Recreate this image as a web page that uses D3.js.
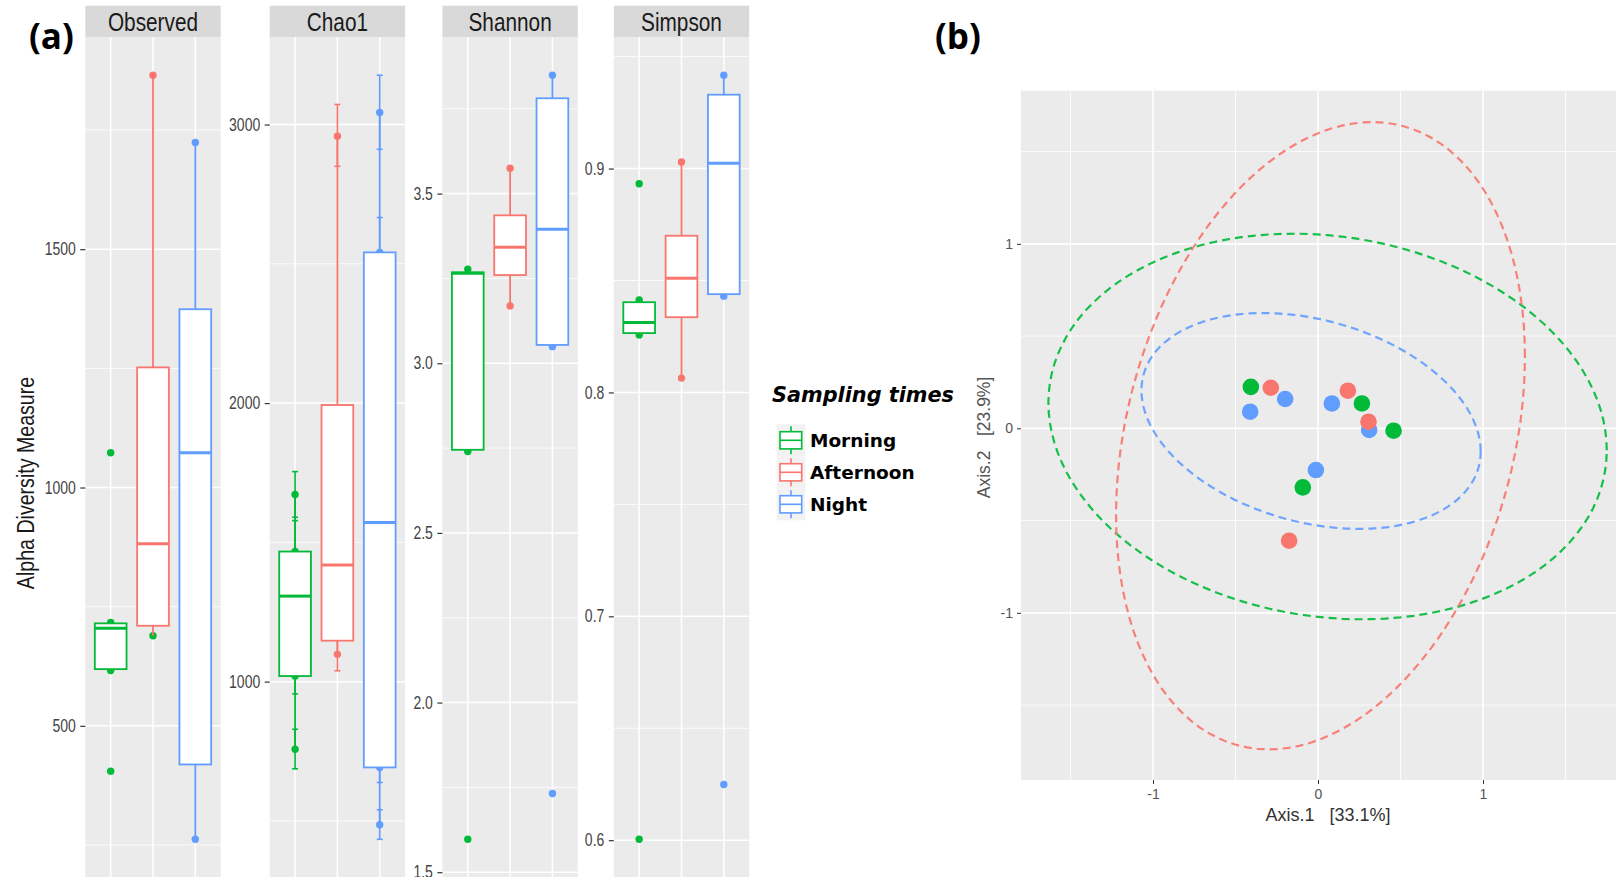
<!DOCTYPE html>
<html>
<head>
<meta charset="utf-8">
<script src="https://cdn.jsdelivr.net/npm/d3@7"></script>
<style>
body { margin: 0; background: #ffffff; }
svg { display: block; }
</style>
</head>
<body>
<div id="chart"></div>
<script>
var groups = ['Morning', 'Afternoon', 'Night']
var groupColors = ['#00BA38', '#F8766D', '#619CFF']
var metrics = ['Observed', 'Chao1', 'Shannon', 'Simpson']

// box stats per sampling time: lower whisker, q1, median, q3, upper whisker
var observedBoxes = [[616, 619, 705, 715, 717], [689, 710, 882, 1252, 1865], [262, 419, 1073, 1374, 1724]]
var chao1Boxes = [[757, 1020, 1307, 1467, 1672], [1098, 1147, 1419, 1993, 2958], [486, 692, 1571, 2541, 3043]]
var shannonBoxes = [[2.74, 2.745, 3.265, 3.268, 3.277], [3.169, 3.26, 3.342, 3.436, 3.575], [3.049, 3.054, 3.395, 3.781, 3.849]]
var simpsonBoxes = [[0.8257, 0.8265, 0.8312, 0.8403, 0.8413], [0.8064, 0.8336, 0.851, 0.87, 0.9029], [0.843, 0.8439, 0.9024, 0.933, 0.9417]]

// sample points: x group, colour group, value
var observedPoints = [[0, 0, 1073], [0, 0, 717], [0, 0, 616], [0, 0, 405], [1, 0, 689], [1, 1, 1865], [2, 2, 1724], [2, 2, 262]]
var chao1Points = [[0, 0, 1672], [0, 0, 1467], [0, 0, 1020], [0, 0, 757], [1, 1, 2958], [1, 1, 1098], [2, 2, 3043], [2, 2, 2541], [2, 2, 692], [2, 2, 486]]
var chao1Low = [1590, 1356, 956, 687, 2850, 1039, 2911, 2416, 638, 434]
var chao1High = [1754, 1578, 1084, 829, 3072, 1157, 3177, 2666, 746, 540]
var shannonPoints = [[0, 0, 3.277], [0, 0, 2.74], [0, 0, 1.597], [1, 1, 3.575], [1, 1, 3.169], [2, 2, 3.849], [2, 2, 3.049], [2, 2, 1.732]]
var simpsonPoints = [[0, 0, 0.8932], [0, 0, 0.8413], [0, 0, 0.8257], [0, 0, 0.6004], [1, 1, 0.9029], [1, 1, 0.8064], [2, 2, 0.9417], [2, 2, 0.843], [2, 2, 0.6249]]

var observedTicks = [500, 1000, 1500]
var chao1Ticks = [1000, 2000, 3000]
var shannonTicks = [1.5, 2, 2.5, 3, 3.5]
var simpsonTicks = [0.6, 0.7, 0.8, 0.9]
var observedTickLabels = ['500', '1000', '1500']
var chao1TickLabels = ['1000', '2000', '3000']
var shannonTickLabels = ['1.5', '2.0', '2.5', '3.0', '3.5']
var simpsonTickLabels = ['0.6', '0.7', '0.8', '0.9']

// PCoA samples
var pcoaAxis1 = [-0.407, 0.266, 0.458, -0.092, -0.411, -0.199, 0.084, 0.310, -0.013, -0.286, 0.181, 0.306, -0.175]
var pcoaAxis2 = [0.225, 0.135, -0.013, -0.320, 0.090, 0.159, 0.135, -0.009, -0.226, 0.220, 0.204, 0.036, -0.609]
var pcoaGroup = [0, 0, 0, 0, 2, 2, 2, 2, 2, 1, 1, 1, 1]

// ellipses per group: centre, half width, half height, x shift of the top point
var ellipseCenterX = [0.058, 0.015, -0.042]
var ellipseCenterY = [0.01, -0.04, 0.04]
var ellipseHalfWidth = [1.692, 1.239, 1.028]
var ellipseHalfHeight = [1.045, 1.70, 0.585]
var ellipseTopShift = [-0.208, 0.313, -0.29]

var pcoaTicks = [-1, 0, 1]
var pcoaTickLabels = ['-1', '0', '1']

var W = 1616, H = 877
var svg = d3.select('#chart').append('svg').attr('width', W).attr('height', H)
var narrow = 0.8
var sans = 'Liberation Sans, Arial, sans-serif'

function condensedText(x, y, str, size, anchor, fill, rotate){
    svg.append('text')
        .attr('transform', 'translate(' + x + ',' + y + ')' + (rotate ? ' rotate(-90)' : '') + ' scale(' + narrow + ',1)')
        .attr('text-anchor', anchor)
        .attr('font-family', sans)
        .attr('font-size', size)
        .attr('fill', fill)
        .text(str)
}

function minorTicks(ticks, domain){
    var step = ticks[1] - ticks[0]
    var result = []
    for(var i = -1; i < ticks.length; i++){
        var v = ticks[0] + step * (i + 0.5)
        if(v > domain[0] && v < domain[1]) result.push(v)
    }
    return result
}

// ---------- panel (a) ----------
var panelTop = 37, panelBottom = 877.5, stripTop = 5.7
var panelLeft = [85.3, 269.7, 442.4, 613.8], panelWidth = 135.4
var allBoxes = [observedBoxes, chao1Boxes, shannonBoxes, simpsonBoxes]
var allPoints = [observedPoints, chao1Points, shannonPoints, simpsonPoints]
var allTicks = [observedTicks, chao1Ticks, shannonTicks, simpsonTicks]
var allTickLabels = [observedTickLabels, chao1TickLabels, shannonTickLabels, simpsonTickLabels]

function drawFacet(m){
    var boxes = allBoxes[m]
    var points = allPoints[m]
    var left = panelLeft[m]
    var values = []
    boxes.forEach(function(b){ values = values.concat(b) })
    points.forEach(function(p){ values.push(p[2]) })
    if(m === 1) values = values.concat(chao1Low, chao1High)
    var ext = d3.extent(values)
    var pad = (ext[1] - ext[0]) * 0.05
    var domain = [ext[0] - pad, ext[1] + pad]

    var y = d3.scaleLinear().domain(domain).range([panelBottom, panelTop])
    var x = d3.scalePoint().domain(groups).range([left, left + panelWidth]).padding(0.6)
    var step = x.step()

    // strip
    svg.append('rect').attr('x', left).attr('y', stripTop).attr('width', panelWidth)
        .attr('height', panelTop - stripTop).attr('fill', '#d9d9d9')
    condensedText(left + panelWidth / 2, 30.5, metrics[m], 26, 'middle', '#1a1a1a')

    // panel background and grid
    svg.append('rect').attr('x', left).attr('y', panelTop).attr('width', panelWidth)
        .attr('height', panelBottom - panelTop).attr('fill', '#ebebeb')
    var g = svg.append('g')
    g.selectAll('line.minor').data(minorTicks(allTicks[m], domain)).enter().append('line')
        .attr('x1', left).attr('x2', left + panelWidth)
        .attr('y1', function(d){ return y(d) }).attr('y2', function(d){ return y(d) })
        .attr('stroke', '#ffffff').attr('stroke-width', 0.8)
    g.selectAll('line.major').data(allTicks[m]).enter().append('line')
        .attr('x1', left).attr('x2', left + panelWidth)
        .attr('y1', function(d){ return y(d) }).attr('y2', function(d){ return y(d) })
        .attr('stroke', '#ffffff').attr('stroke-width', 1.5)
    g.selectAll('line.vert').data(groups).enter().append('line')
        .attr('x1', function(d){ return x(d) }).attr('x2', function(d){ return x(d) })
        .attr('y1', panelTop).attr('y2', panelBottom)
        .attr('stroke', '#ffffff').attr('stroke-width', 1.5)

    // error bars (Chao1 only)
    if(m === 1){
        points.forEach(function(p, i){
            var cx = x(groups[p[0]])
            var col = groupColors[p[1]]
            var cap = step * 0.07
            g.append('line').attr('x1', cx).attr('x2', cx).attr('y1', y(chao1Low[i])).attr('y2', y(chao1High[i]))
                .attr('stroke', col).attr('stroke-width', 1.6)
            g.append('line').attr('x1', cx - cap).attr('x2', cx + cap).attr('y1', y(chao1Low[i])).attr('y2', y(chao1Low[i]))
                .attr('stroke', col).attr('stroke-width', 1.6)
            g.append('line').attr('x1', cx - cap).attr('x2', cx + cap).attr('y1', y(chao1High[i])).attr('y2', y(chao1High[i]))
                .attr('stroke', col).attr('stroke-width', 1.6)
        })
    }

    // sample points
    g.selectAll('circle').data(points).enter().append('circle')
        .attr('cx', function(d){ return x(groups[d[0]]) })
        .attr('cy', function(d){ return y(d[2]) })
        .attr('r', 3.7)
        .attr('fill', function(d){ return groupColors[d[1]] })

    // boxes
    var bw = step * 0.75
    boxes.forEach(function(b, i){
        var cx = x(groups[i])
        var col = groupColors[i]
        g.append('line').attr('x1', cx).attr('x2', cx).attr('y1', y(b[0])).attr('y2', y(b[1]))
            .attr('stroke', col).attr('stroke-width', 1.8)
        g.append('line').attr('x1', cx).attr('x2', cx).attr('y1', y(b[3])).attr('y2', y(b[4]))
            .attr('stroke', col).attr('stroke-width', 1.8)
        g.append('rect').attr('x', cx - bw / 2).attr('y', y(b[3]))
            .attr('width', bw).attr('height', y(b[1]) - y(b[3]))
            .attr('fill', '#ffffff').attr('stroke', col).attr('stroke-width', 1.8)
        g.append('line').attr('x1', cx - bw / 2).attr('x2', cx + bw / 2).attr('y1', y(b[2])).attr('y2', y(b[2]))
            .attr('stroke', col).attr('stroke-width', 3)
    })

    // y axis
    var labels = allTickLabels[m]
    var axis = svg.append('g').attr('transform', 'translate(' + left + ',0)')
        .call(d3.axisLeft(y).tickValues(allTicks[m]).tickSize(5)
            .tickFormat(function(d, i){ return labels[i] }))
    axis.select('.domain').remove()
    axis.selectAll('.tick line').attr('stroke', '#333333').attr('stroke-width', 1.2)
    axis.selectAll('.tick text')
        .attr('font-family', sans).attr('font-size', 17.5).attr('fill', '#444444')
        .attr('transform', 'scale(' + narrow + ',1)')
        .attr('x', -9.5 / narrow)
}

for(var m = 0; m < metrics.length; m++){
    drawFacet(m)
}

condensedText(34, 483, 'Alpha Diversity Measure', 24.5, 'middle', '#1a1a1a', true)

svg.append('text').attr('x', 29).attr('y', 49)
    .attr('font-family', 'Open Sans, Lato, sans-serif').attr('font-weight', 'bold')
    .attr('font-size', 35).attr('fill', '#000000').text('(a)')

// legend
var legend = svg.append('g')
legend.append('text').attr('x', 772).attr('y', 402)
    .attr('font-family', 'DejaVu Sans, Verdana, sans-serif').attr('font-weight', 'bold')
    .attr('font-style', 'italic').attr('font-size', 20.8).attr('fill', '#000000')
    .text('Sampling times')
groups.forEach(function(name, i){
    var cy = 440.3 + i * 32
    var cx = 791
    legend.append('rect').attr('x', 776.7).attr('y', cy - 16).attr('width', 28.6).attr('height', 32)
        .attr('fill', '#f2f2f2')
    legend.append('line').attr('x1', cx).attr('x2', cx).attr('y1', cy - 14).attr('y2', cy + 14)
        .attr('stroke', groupColors[i]).attr('stroke-width', 1.6)
    legend.append('rect').attr('x', 780).attr('y', cy - 8.6).attr('width', 21.7).attr('height', 17.2)
        .attr('fill', '#ffffff').attr('stroke', groupColors[i]).attr('stroke-width', 1.6)
    legend.append('line').attr('x1', 780).attr('x2', 801.7).attr('y1', cy).attr('y2', cy)
        .attr('stroke', groupColors[i]).attr('stroke-width', 1.6)
    legend.append('text').attr('x', 810).attr('y', cy + 6.5)
        .attr('font-family', 'DejaVu Sans, Verdana, sans-serif').attr('font-weight', 'bold')
        .attr('font-size', 18.5).attr('fill', '#000000')
        .text(name)
})

// ---------- panel (b) ----------
var bLeft = 1021, bRight = 1616, bTop = 90.7, bBottom = 780
var px = d3.scaleLinear().domain([-1.80, 1.806]).range([bLeft, bRight])
var py = d3.scaleLinear().domain([-1.906, 1.830]).range([bBottom, bTop])

svg.append('rect').attr('x', bLeft).attr('y', bTop).attr('width', bRight - bLeft)
    .attr('height', bBottom - bTop).attr('fill', '#ebebeb')

var pg = svg.append('g')
var pMinor = [-1.5, -0.5, 0.5, 1.5]
pg.selectAll('line.vminor').data(pMinor).enter().append('line')
    .attr('x1', function(d){ return px(d) }).attr('x2', function(d){ return px(d) })
    .attr('y1', bTop).attr('y2', bBottom).attr('stroke', '#ffffff').attr('stroke-width', 0.8)
pg.selectAll('line.hminor').data(pMinor).enter().append('line')
    .attr('x1', bLeft).attr('x2', bRight)
    .attr('y1', function(d){ return py(d) }).attr('y2', function(d){ return py(d) })
    .attr('stroke', '#ffffff').attr('stroke-width', 0.8)
pg.selectAll('line.vmajor').data(pcoaTicks).enter().append('line')
    .attr('x1', function(d){ return px(d) }).attr('x2', function(d){ return px(d) })
    .attr('y1', bTop).attr('y2', bBottom).attr('stroke', '#ffffff').attr('stroke-width', 1.6)
pg.selectAll('line.hmajor').data(pcoaTicks).enter().append('line')
    .attr('x1', bLeft).attr('x2', bRight)
    .attr('y1', function(d){ return py(d) }).attr('y2', function(d){ return py(d) })
    .attr('stroke', '#ffffff').attr('stroke-width', 1.6)

// points
var order = d3.range(pcoaAxis1.length)
pg.selectAll('circle').data(order).enter().append('circle')
    .attr('cx', function(i){ return px(pcoaAxis1[i]) })
    .attr('cy', function(i){ return py(pcoaAxis2[i]) })
    .attr('r', 8.3)
    .attr('fill', function(i){ return groupColors[pcoaGroup[i]] })

// dashed ellipses
var ellipseLine = d3.line().x(function(d){ return px(d[0]) }).y(function(d){ return py(d[1]) })
groups.forEach(function(name, k){
    var a = ellipseHalfWidth[k]
    var ey = ellipseHalfHeight[k]
    var b = ellipseTopShift[k] * ey / a
    var c = Math.sqrt(ey * ey - b * b)
    var pts = d3.range(0, 361, 3).map(function(deg){
        var t = deg * Math.PI / 180
        return [ellipseCenterX[k] + a * Math.cos(t), ellipseCenterY[k] + b * Math.cos(t) + c * Math.sin(t)]
    })
    pg.append('path').attr('d', ellipseLine(pts))
        .attr('fill', 'none').attr('stroke', groupColors[k]).attr('stroke-opacity', 0.9)
        .attr('stroke-width', 2.2).attr('stroke-dasharray', '8,5')
})

var xAxisB = svg.append('g').attr('transform', 'translate(0,' + bBottom + ')')
    .call(d3.axisBottom(px).tickValues(pcoaTicks).tickSize(4)
        .tickFormat(function(d, i){ return pcoaTickLabels[i] }))
xAxisB.select('.domain').remove()
xAxisB.selectAll('.tick line').attr('stroke', '#333333')
xAxisB.selectAll('.tick text').attr('font-family', sans).attr('font-size', 14)
    .attr('fill', '#555555').attr('y', 9)

var yAxisB = svg.append('g').attr('transform', 'translate(' + bLeft + ',0)')
    .call(d3.axisLeft(py).tickValues(pcoaTicks).tickSize(4)
        .tickFormat(function(d, i){ return pcoaTickLabels[i] }))
yAxisB.select('.domain').remove()
yAxisB.selectAll('.tick line').attr('stroke', '#333333')
yAxisB.selectAll('.tick text').attr('font-family', sans).attr('font-size', 14)
    .attr('fill', '#555555').attr('x', -8)

svg.append('text').attr('x', 1328).attr('y', 821)
    .attr('text-anchor', 'middle').attr('font-family', sans).attr('font-size', 18)
    .attr('fill', '#333333').style('white-space', 'pre')
    .text('Axis.1   [33.1%]')
svg.append('text').attr('transform', 'translate(990,437.5) rotate(-90)')
    .attr('text-anchor', 'middle').attr('font-family', sans).attr('font-size', 17.5)
    .attr('fill', '#555555').style('white-space', 'pre')
    .text('Axis.2   [23.9%]')

svg.append('text').attr('x', 935).attr('y', 49)
    .attr('font-family', 'Open Sans, Lato, sans-serif').attr('font-weight', 'bold')
    .attr('font-size', 35).attr('fill', '#000000').text('(b)')
</script>
</body>
</html>
